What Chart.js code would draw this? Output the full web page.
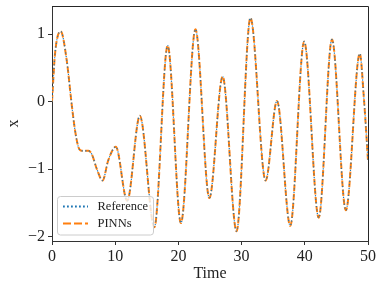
<!DOCTYPE html>
<html>
<head>
<meta charset="utf-8">
<script src="https://cdn.jsdelivr.net/npm/chart.js@4/dist/chart.umd.min.js"></script>
<style>
  html, body { margin: 0; padding: 0; background: #fff; }
  canvas { display: block; }
</style>
</head>
<body>
<canvas id="c" width="382" height="288"></canvas>
<script>
// ---- Data ----
const time = [0, 0.48, 1.37, 2.33, 3.1, 3.65, 4.2, 4.7, 5.76, 6.3, 7.1, 8.0, 8.9, 10.1, 11.9, 13.9, 16.2, 18.3, 20.4, 22.7, 24.9, 27.0, 29.2, 31.4, 33.8, 35.6, 37.7, 39.9, 42.2, 44.3, 46.5, 48.7, 49.35, 50];
const referenceX = [0, 0.71, 1.04, 0.61, -0.03, -0.43, -0.68, -0.73, -0.73, -0.78, -1.0, -1.17, -0.87, -0.67, -1.47, -0.21, -1.86, 0.83, -1.80, 1.07, -1.43, 0.37, -1.92, 1.24, -1.17, 0.01, -1.84, 0.89, -1.72, 0.92, -1.61, 0.71, 0.05, -0.87];
const pinnsX = [0, 0.71, 1.04, 0.61, -0.03, -0.43, -0.68, -0.73, -0.73, -0.78, -1.0, -1.17, -0.87, -0.67, -1.47, -0.21, -1.86, 0.83, -1.80, 1.07, -1.43, 0.37, -1.92, 1.24, -1.17, 0.01, -1.84, 0.89, -1.72, 0.92, -1.61, 0.71, 0.05, -0.87];
const xTicks = [0, 10, 20, 30, 40, 50];
const yTicks = [-2, -1, 0, 1];
const seriesLabels = ['Reference', 'PINNs'];

const FONT = "'Liberation Serif', 'DejaVu Serif', serif";
const toPts = (xs, ys) => xs.map((t, i) => ({ x: t, y: ys[i] }));

const framePlugin = {
  id: 'frame',
  afterDraw(chart) {
    const { ctx, chartArea: a } = chart;
    ctx.save();
    ctx.strokeStyle = '#262626';
    ctx.lineWidth = 1;
    ctx.beginPath();
    ctx.moveTo(a.left, Math.round(a.top) + 0.5);
    ctx.lineTo(Math.round(a.right) + 0.5, Math.round(a.top) + 0.5);
    ctx.lineTo(Math.round(a.right) + 0.5, a.bottom);
    ctx.stroke();
    ctx.restore();
  }
};

const legendStyles = [
  { width: 2, dash: [1.8, 2.2] },
  { width: 2, dash: [8, 3] }
];

const legendPlugin = {
  id: 'innerLegend',
  afterDraw(chart) {
    const { ctx } = chart;
    const x0 = 57.5, y0 = 196.5, w = 96, h = 38.5, r = 3;
    ctx.save();
    ctx.fillStyle = 'rgba(255,255,255,0.8)';
    ctx.strokeStyle = '#cccccc';
    ctx.lineWidth = 1;
    ctx.beginPath();
    ctx.moveTo(x0 + r, y0);
    ctx.lineTo(x0 + w - r, y0);
    ctx.arcTo(x0 + w, y0, x0 + w, y0 + r, r);
    ctx.lineTo(x0 + w, y0 + h - r);
    ctx.arcTo(x0 + w, y0 + h, x0 + w - r, y0 + h, r);
    ctx.lineTo(x0 + r, y0 + h);
    ctx.arcTo(x0, y0 + h, x0, y0 + h - r, r);
    ctx.lineTo(x0, y0 + r);
    ctx.arcTo(x0, y0, x0 + r, y0, r);
    ctx.closePath();
    ctx.fill();
    ctx.stroke();
    const rows = [206.5, 223.5];
    chart.data.datasets.forEach((ds, i) => {
      const y = rows[i];
      ctx.strokeStyle = ds.borderColor;
      ctx.lineWidth = legendStyles[i].width;
      ctx.setLineDash(legendStyles[i].dash);
      ctx.beginPath();
      ctx.moveTo(63, y);
      ctx.lineTo(88, y);
      ctx.stroke();
      ctx.setLineDash([]);
      ctx.fillStyle = '#222';
      ctx.font = "12.5px " + FONT;
      ctx.textBaseline = 'middle';
      ctx.textAlign = 'left';
      ctx.fillText(ds.label, 97.5, y + 0.5);
    });
    ctx.restore();
  }
};

new Chart(document.getElementById('c'), {
  type: 'line',
  data: {
    datasets: [
      {
        label: seriesLabels[0],
        data: toPts(time, referenceX),
        borderColor: '#1f77b4',
        borderWidth: 1.2,
        borderDash: [1.2, 2.4],
        pointRadius: 0,
        fill: false,
        cubicInterpolationMode: 'monotone'
      },
      {
        label: seriesLabels[1],
        data: toPts(time, pinnsX),
        borderColor: '#ff7f0e',
        borderWidth: 2,
        borderDash: [6.5, 2.5],
        pointRadius: 0,
        fill: false,
        cubicInterpolationMode: 'monotone'
      }
    ]
  },
  options: {
    responsive: false,
    animation: false,
    devicePixelRatio: 1,
    layout: { padding: { top: 6, right: 14, left: 0, bottom: 0 } },
    plugins: { legend: { display: false }, tooltip: { enabled: false } },
    scales: {
      x: {
        type: 'linear',
        min: 0, max: 50,
        afterBuildTicks: s => { s.ticks = xTicks.map(v => ({ value: v })); },
        afterFit: s => { s.height = 47; s.paddingLeft = 0; s.paddingRight = 0; },
        grid: { display: true, drawOnChartArea: false, drawTicks: true, tickLength: 4, tickColor: '#333' },
        border: { display: true, color: '#333', width: 1 },
        ticks: { color: '#222', font: { family: FONT, size: 16 }, padding: 2, maxRotation: 0 },
        title: { display: true, text: 'Time', color: '#222', font: { family: FONT, size: 16 }, padding: { top: 0, bottom: 5 } }
      },
      y: {
        type: 'linear',
        min: -2.065, max: 1.415,
        afterBuildTicks: s => { s.ticks = yTicks.map(v => ({ value: v })); },
        afterFit: s => { s.width = 52; s.paddingTop = 0; s.paddingBottom = 0; },
        grid: { display: true, drawOnChartArea: false, drawTicks: true, tickLength: 4, tickColor: '#333' },
        border: { display: true, color: '#333', width: 1 },
        ticks: {
          color: '#222', font: { family: FONT, size: 16 }, padding: 3,
          callback: v => (v < 0 ? '\u2212' + Math.abs(v) : String(v))
        },
        title: { display: true, text: 'x', color: '#222', font: { family: FONT, size: 16 }, padding: { top: 4, bottom: 0 } }
      }
    }
  },
  plugins: [framePlugin, legendPlugin]
});
</script>
</body>
</html>
